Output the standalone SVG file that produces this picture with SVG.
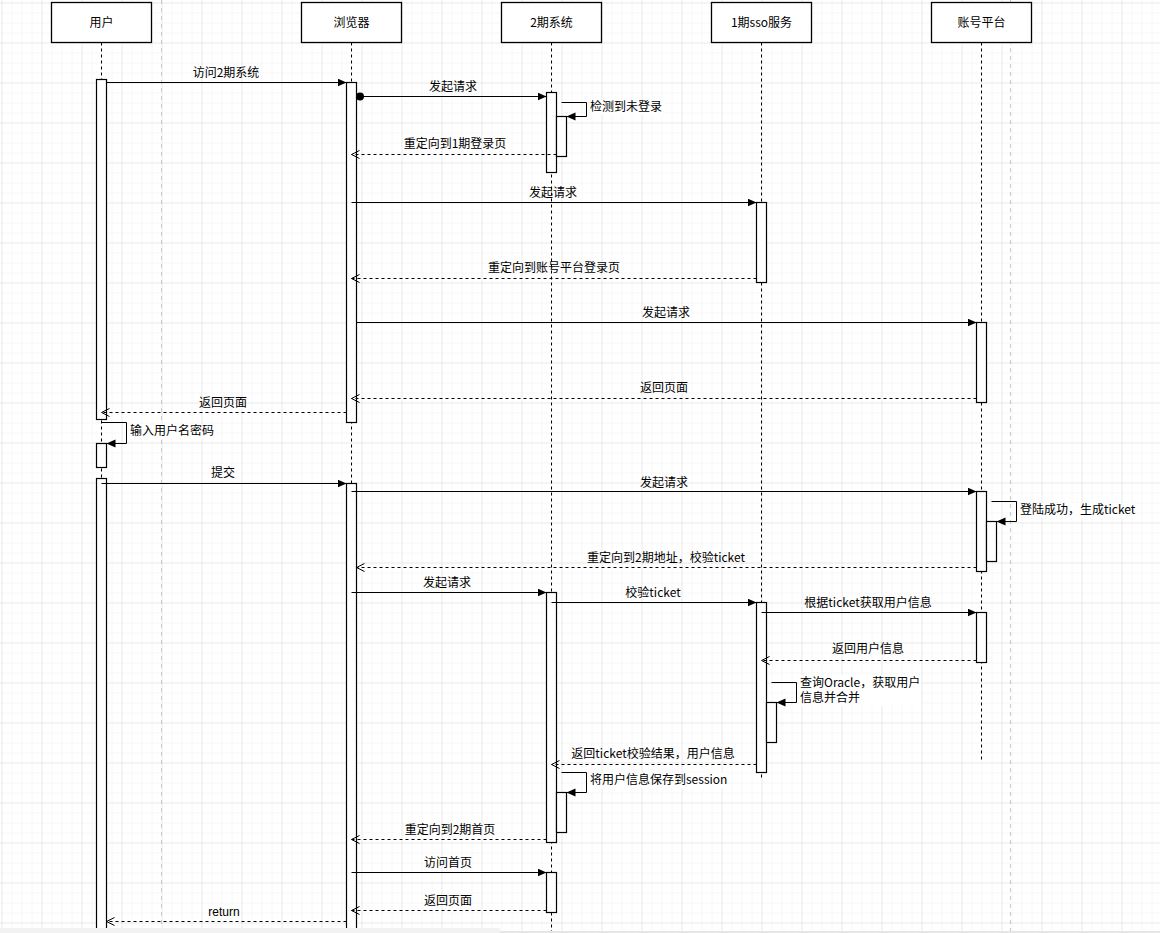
<svg xmlns="http://www.w3.org/2000/svg" width="1160" height="933" viewBox="0 0 1160 933">
<defs>
<pattern id="minor" x="1.5" y="2.5" width="10" height="10" patternUnits="userSpaceOnUse">
<path d="M0.5,0 V10 M0,0.5 H10" stroke="#f0f0f0" stroke-width="1" fill="none" transform="translate(-0.5,-0.5)"/>
</pattern>
<pattern id="major" x="1.5" y="2.5" width="40" height="40" patternUnits="userSpaceOnUse">
<path d="M0,0 V40 M0,0 H40" stroke="#dddddd" stroke-width="1" fill="none"/>
</pattern>
<marker id="block" markerUnits="userSpaceOnUse" markerWidth="12" markerHeight="12" refX="9" refY="4" orient="auto">
<path d="M0,0 L9,4 L0,8 z" fill="#000"/>
</marker>
<marker id="open" markerUnits="userSpaceOnUse" markerWidth="12" markerHeight="12" refX="8" refY="4" orient="auto">
<path d="M0,0 L8,4 L0,8" fill="none" stroke="#000" stroke-width="1"/>
</marker>
</defs>
<style>
.box{fill:#fff;stroke:#000;stroke-width:1.3}
.act{fill:#fff;stroke:#000;stroke-width:1.2}
.life{stroke:#000;stroke-width:1;stroke-dasharray:3 3;fill:none}
.page{stroke:#c8c8c8;stroke-width:1;stroke-dasharray:4 4;fill:none}
.msg{stroke:#000;stroke-width:1;fill:none;marker-end:url(#block)}
.ret{stroke:#000;stroke-width:1;fill:none;stroke-dasharray:3 3;marker-end:url(#open)}
text{font-family:"Noto Sans CJK SC","Liberation Sans",sans-serif;font-size:12px;fill:#000}
.c{text-anchor:middle}
.bg{fill:#fff}
</style>
<rect width="1160" height="933" fill="#fff"/>
<rect width="1160" height="933" fill="url(#minor)"/>
<rect width="1160" height="933" fill="url(#major)"/>
<path class="page" d="M161.5,0 V933 M1010.5,0 V933"/>

<g id="lifelines">
<path class="life" d="M101.5,42.5 V933"/>
<path class="life" d="M351.5,42.5 V933"/>
<path class="life" d="M551.5,42.5 V933"/>
<path class="life" d="M761.5,42.5 V780"/>
<path class="life" d="M981.5,42.5 V759.5"/>
</g>

<g id="user">
<rect class="box" x="51.5" y="2.5" width="100" height="40"/>
<text class="c" x="101.5" y="27">用户</text>
<rect class="act" x="96.5" y="79.5" width="10" height="340"/>
<rect class="act" x="96.5" y="443.5" width="10" height="24"/>
<rect class="act" x="96.5" y="478.5" width="10" height="460"/>
</g>
<g id="browser">
<rect class="box" x="301.5" y="2.5" width="100" height="40"/>
<text class="c" x="351.5" y="27">浏览器</text>
<rect class="act" x="346.5" y="82.5" width="10" height="340"/>
<rect class="act" x="346.5" y="483.5" width="10" height="460"/>
</g>
<g id="system2">
<rect class="box" x="501.5" y="2.5" width="100" height="40"/>
<text class="c" x="551.5" y="27">2期系统</text>
<rect class="act" x="546.5" y="92.5" width="10" height="80"/>
<rect class="act" x="556.5" y="116.5" width="10" height="40"/>
<rect class="act" x="546.5" y="592.5" width="10" height="250"/>
<rect class="act" x="556.5" y="792.5" width="10" height="40"/>
<rect class="act" x="546.5" y="872.5" width="10" height="40"/>
</g>
<g id="sso1">
<rect class="box" x="711.5" y="2.5" width="100" height="40"/>
<text class="c" x="761.5" y="27">1期sso服务</text>
<rect class="act" x="756.5" y="202.5" width="10" height="80"/>
<rect class="act" x="756.5" y="602.5" width="10" height="170"/>
<rect class="act" x="766.5" y="702.5" width="10" height="40"/>
</g>
<g id="account">
<rect class="box" x="931.5" y="2.5" width="100" height="40"/>
<text class="c" x="981.5" y="27">账号平台</text>
<rect class="act" x="976.5" y="322.5" width="10" height="80"/>
<rect class="act" x="976.5" y="491.5" width="10" height="80"/>
<rect class="act" x="986.5" y="521.5" width="10" height="40"/>
<rect class="act" x="976.5" y="612.5" width="10" height="50"/>
</g>

<g id="connectors">
<path class="msg" d="M106.5,82.5 H346.5"/>
<text class="c" x="226" y="77">访问2期系统</text>

<circle cx="360" cy="96.5" r="4" fill="#000"/>
<path class="msg" d="M360,96.5 H546.5"/>
<text class="c" x="453" y="91">发起请求</text>

<path class="msg" d="M561.5,102.5 H586.5 V116.5 H566.5"/>
<rect class="bg" x="589" y="100" width="74" height="15"/>
<text x="590" y="111">检测到未登录</text>

<path class="ret" d="M556.5,154.5 H351.5"/>
<text class="c" x="455" y="148">重定向到1期登录页</text>

<path class="msg" d="M351.5,202.5 H756.5"/>
<text class="c" x="553" y="197">发起请求</text>

<path class="ret" d="M756.5,278.5 H351.5"/>
<text class="c" x="554" y="272">重定向到账号平台登录页</text>

<path class="msg" d="M356.5,322.5 H976.5"/>
<text class="c" x="666" y="317">发起请求</text>

<path class="ret" d="M976.5,398.5 H351.5"/>
<text class="c" x="664" y="392">返回页面</text>

<path class="ret" d="M346.5,412.5 H101.5"/>
<text class="c" x="223" y="407">返回页面</text>

<path class="msg" d="M101.5,422.5 H126.5 V443.5 H106.5"/>
<rect class="bg" x="129" y="424" width="86" height="15"/>
<text x="130" y="435">输入用户名密码</text>

<path class="msg" d="M101.5,483.5 H346.5"/>
<text class="c" x="223" y="477">提交</text>

<path class="msg" d="M351.5,491.5 H976.5"/>
<text class="c" x="664" y="487">发起请求</text>

<path class="msg" d="M991.5,501.5 H1016.5 V521.5 H996.5"/>
<rect class="bg" x="1019" y="503" width="114" height="15"/>
<text x="1020" y="514">登陆成功，生成ticket</text>

<path class="ret" d="M976.5,567.5 H356.5"/>
<text class="c" x="666" y="562">重定向到2期地址，校验ticket</text>

<path class="msg" d="M351.5,592.5 H546.5"/>
<text class="c" x="447" y="587">发起请求</text>

<path class="msg" d="M551.5,602.5 H756.5"/>
<text class="c" x="653" y="597">校验ticket</text>

<path class="msg" d="M761.5,612.5 H976.5"/>
<text class="c" x="868" y="607">根据ticket获取用户信息</text>

<path class="ret" d="M976.5,660.5 H761.5"/>
<text class="c" x="868" y="653">返回用户信息</text>

<path class="msg" d="M771.5,682.5 H796.5 V702.5 H776.5"/>
<rect class="bg" x="799" y="675" width="122" height="31"/>
<text x="800" y="687">查询Oracle，获取用户</text>
<text x="800" y="702">信息并合并</text>

<path class="ret" d="M756.5,764.5 H551.5"/>
<text class="c" x="653" y="758">返回ticket校验结果，用户信息</text>

<path class="msg" d="M561.5,772.5 H586.5 V792.5 H566.5"/>
<rect class="bg" x="589" y="773" width="138" height="15"/>
<text x="590" y="784">将用户信息保存到session</text>

<path class="ret" d="M546.5,839.5 H351.5"/>
<text class="c" x="450" y="834">重定向到2期首页</text>

<path class="msg" d="M351.5,872.5 H546.5"/>
<text class="c" x="448" y="867">访问首页</text>

<path class="ret" d="M546.5,910.5 H351.5"/>
<text class="c" x="448" y="905">返回页面</text>

<path class="ret" d="M346.5,921.5 H106.5"/>
<text class="c" x="224" y="916" style="font-family:'Liberation Sans',sans-serif">return</text>
</g>

<rect x="0" y="928" width="500" height="5" fill="#f2f2f2"/>
<rect x="500" y="931" width="660" height="2" fill="#e6e6e6"/>
</svg>
